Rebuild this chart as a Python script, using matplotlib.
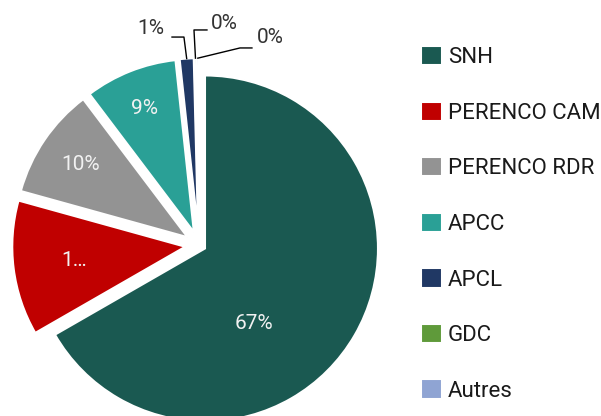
import numpy as np
import matplotlib
matplotlib.use("Agg")
import matplotlib.pyplot as plt

plt.rcParams['font.family'] = ['Roboto', 'DejaVu Sans']

labels = ['SNH', 'PERENCO CAM', 'PERENCO RDR', 'APCC', 'APCL', 'GDC', 'Autres']
values = [66.7, 12.6, 10.4, 8.6, 1.3, 0.2, 0.2]
pct_text = ['67%', '1…', '10%', '9%', '1%', '0%', '0%']
colors = ['#1A5951', '#C00000', '#939393', '#2AA096', '#203864', '#5F9A3A', '#8FA4D3']
explode = [0.04, 0.08, 0.08, 0.08, 0.08, 0.08, 0.08]

W, H = 601, 416
scale = 173.0   # pixels per unit radius
cx, cy = 199, 245

fig = plt.figure(figsize=(W / 100, H / 100), dpi=100)
ax = fig.add_axes([0, 0, 1, 1])
ax.axis('off')

wedges, _ = ax.pie(values, colors=colors, explode=explode, startangle=90,
                   counterclock=False, radius=1, frame=False,
                   wedgeprops=dict(edgecolor='white', linewidth=1.5))
ax.set_xlim(-cx / scale, (W - cx) / scale)
ax.set_ylim(-(H - cy) / scale, cy / scale)
ax.set_aspect('auto')


def wedge_point(w, frac, ang=None):
    if ang is None:
        ang = (w.theta1 + w.theta2) / 2
    a = np.deg2rad(ang)
    return w.center[0] + frac * np.cos(a), w.center[1] + frac * np.sin(a)


# inside labels
inside = {0: (0.52, -57), 1: (0.65, None), 2: (0.75, None), 3: (0.77, None)}
for i, (fr, ang) in inside.items():
    x, y = wedge_point(wedges[i], fr, ang)
    ax.text(x, y, pct_text[i], color='#f2f2f2', fontsize=15,
            ha='center', va='center')

# outside labels with leader lines
outside = {
    4: ((-0.277, 1.254), [(-0.156, 1.202), (-0.087, 1.202)]),
    5: ((0.145, 1.283), [(0.046, 1.243), (-0.029, 1.243)]),
    6: ((0.41, 1.197), [(0.306, 1.139), (0.237, 1.139)]),
}
for i, (tpos, elbow) in outside.items():
    px, py = wedge_point(wedges[i], 1.0)
    xs = [elbow[0][0], elbow[1][0], px]
    ys = [elbow[0][1], elbow[1][1], py]
    ax.plot(xs, ys, color='black', lw=1)
    ax.text(tpos[0], tpos[1], pct_text[i], color='#333333', fontsize=15,
            ha='center', va='center')

leg = fig.legend(wedges, labels, loc='upper left', bbox_to_anchor=(410 / W, 1 - 35 / H),
                 frameon=False, fontsize=16, handlelength=0.95, handleheight=0.95,
                 handletextpad=0.25, labelspacing=1.5, borderpad=0)
for t in leg.get_texts():
    t.set_color('#1a1a1a')

fig.savefig('out.png', dpi=100)
